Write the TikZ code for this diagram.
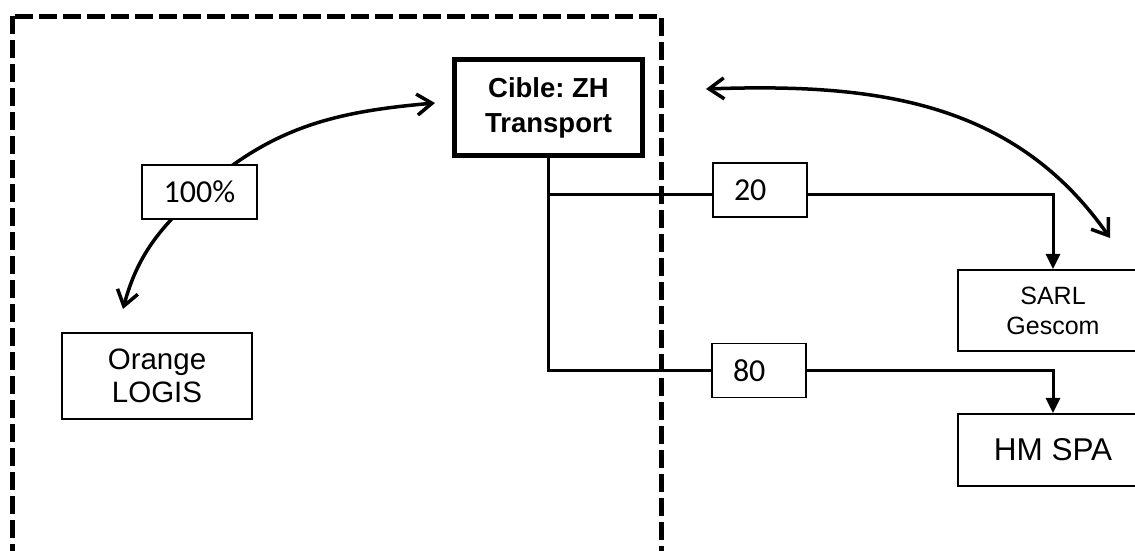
\documentclass[tikz,border=0pt]{standalone}
\usepackage{fontspec}
\setmainfont{Liberation Sans}
\newfontfamily\calibfont{Carlito}
\usetikzlibrary{arrows.meta, positioning}
\frenchspacing

\tikzset{
  firm/.style={draw, line width=2pt, fill=white, align=center, inner sep=0pt},
  target/.style={firm, line width=5pt, font=\bfseries\fontsize{27.5}{35}\selectfont},
  share/.style={draw, line width=1.8pt, fill=white, font=\calibfont\fontsize{32}{38}\selectfont, minimum height=54pt, inner sep=0pt},
  link/.style={line width=3pt},
  hold/.style={line width=3.5pt, {Straight Barb[length=15pt,width=21pt]}-{Straight Barb[length=15pt,width=21pt]}},
  frame/.style={line width=5pt, dash pattern=on 18pt off 6pt}
}

\begin{document}
\begin{tikzpicture}[x=1pt, y=1pt]
  \useasboundingbox (0,0) rectangle (1135,551);
  % perimetre
  \draw[frame] (12,534.5) rectangle (661,-2.8);

  \node[target, minimum width=188pt, minimum height=96pt] (cible) at (548.5,443.5) {Cible: ZH\\Transport};
  \node[firm, minimum width=190pt, minimum height=86pt, font=\fontsize{29.5}{33}\selectfont] (orange) at (157,175) {Orange\\LOGIS};
  \node[firm, minimum width=190pt, minimum height=81pt, font=\fontsize{25}{30}\selectfont] (sarl) at (1053,240.5) {SARL\\Gescom};
  \node[firm, minimum width=190pt, minimum height=72pt, font=\fontsize{31.5}{36}\selectfont] (hmspa) at (1053,101) {HM SPA};
  \node[share, text width=52pt, inner xsep=21pt, align=left] (p20) at (760,361) {20};
  \node[share, text width=52pt, inner xsep=21pt, align=left] (p80) at (759,180.5) {80};

  \draw[link] (cible.south) |- ([yshift=-5pt]p20.west);
  \draw[link, -{Triangle[length=15pt,width=14pt]}] ([yshift=-5pt]p20.east) -| (sarl.north);
  \draw[link] (cible.south) |- (p80.west);
  \draw[link, -{Triangle[length=15pt,width=14pt]}] (p80.east) -| (hmspa.north);

  % liens de controle
  \coordinate (orangeTip) at (123,242);
  \coordinate (cibleTipL) at (435,448);
  \coordinate (cibleTipR) at (706,462);
  \coordinate (sarlTip) at (1110,313);
  \coordinate (c100) at (199.5,359);
  \draw[hold] (orangeTip) to[out=75, in=222] (c100) to[out=42, in=185] (cibleTipL);
  \node[share, minimum width=115pt] (p100) at (c100) {100\%};
  \draw[hold] (cibleTipR) to[out=2, in=125] (sarlTip);
\end{tikzpicture}
\end{document}
